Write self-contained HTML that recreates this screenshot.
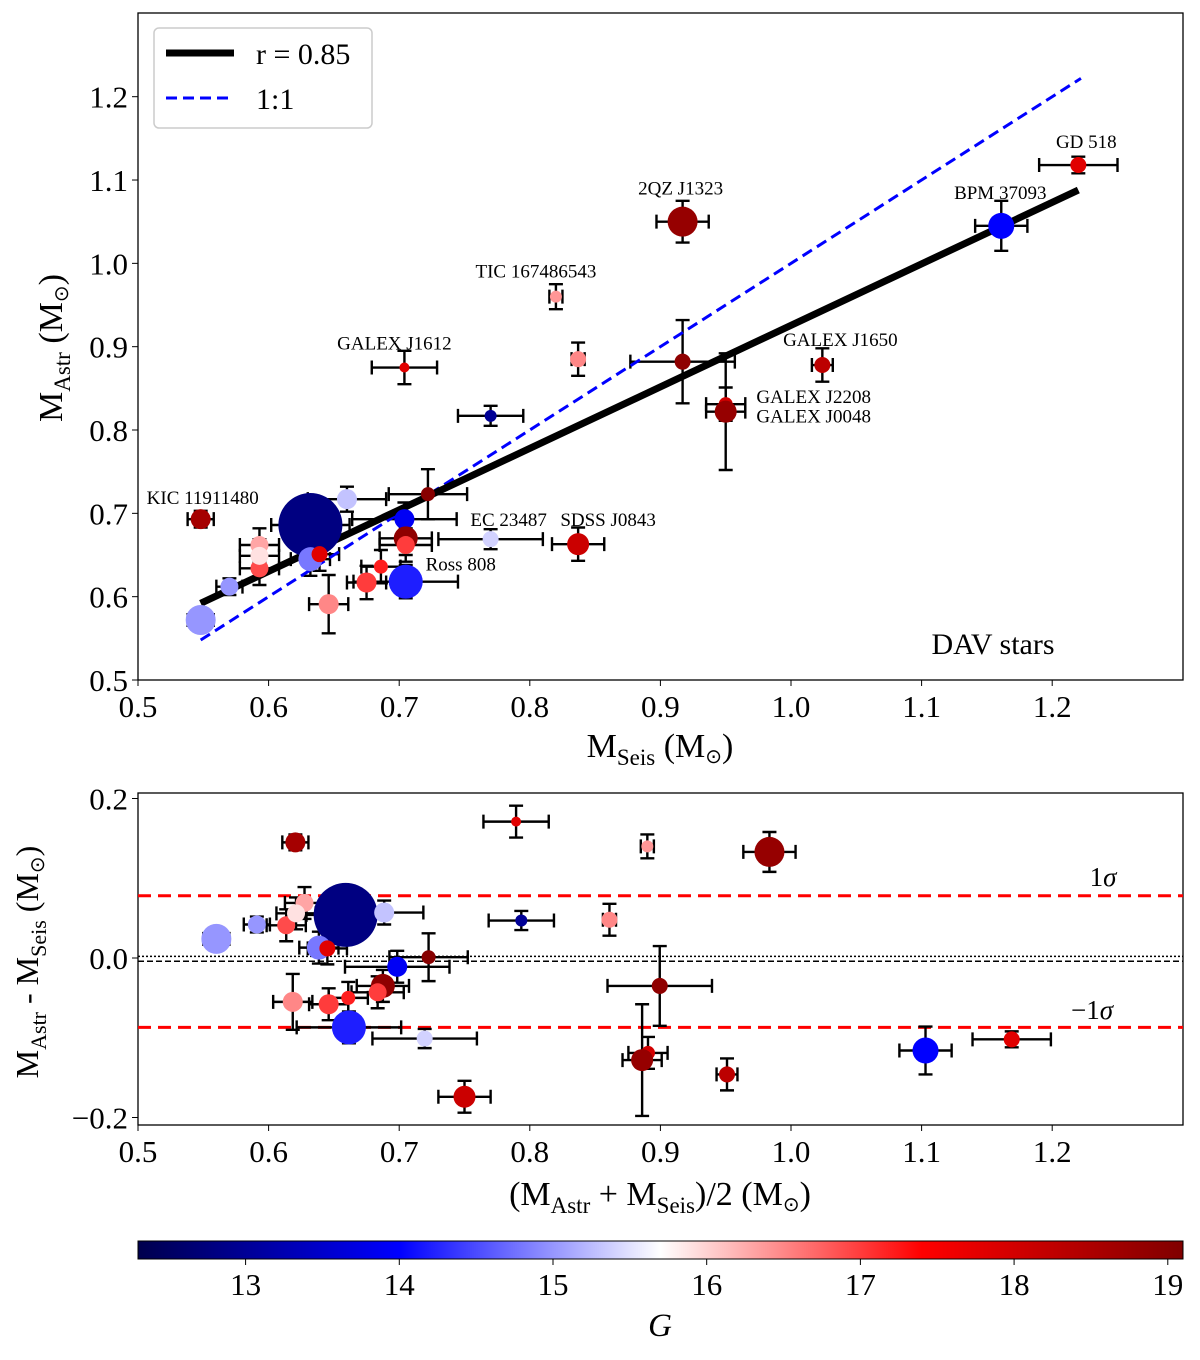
<!DOCTYPE html>
<html><head><meta charset="utf-8"><style>
html,body{margin:0;padding:0;background:#fff;}
svg{display:block;font-family:"Liberation Serif",serif;}
</style></head><body>
<svg id="fig" width="1200" height="1360" viewBox="0 0 1200 1360" xmlns="http://www.w3.org/2000/svg">
<defs>
<linearGradient id="seis" x1="0" x2="1" y1="0" y2="0">
<stop offset="0" stop-color="#00004d"/><stop offset="0.25" stop-color="#0000ff"/><stop offset="0.5" stop-color="#ffffff"/><stop offset="0.75" stop-color="#ff0000"/><stop offset="1" stop-color="#800000"/>
</linearGradient>
<clipPath id="c1"><rect x="138" y="13" width="1045" height="667"/></clipPath>
<clipPath id="c2"><rect x="138" y="793" width="1045" height="332"/></clipPath>
</defs>
<g id="top"></g>
<g id="bot"></g>
<g id="cb"></g>
</svg>
<script>
const names  = ["KIC 11911480","","","","","","","","","SDSS J0843","","","","","","","","","","","GALEX J1612","","TIC 167486543","","","2QZ J1323","GALEX J1650","GALEX J2208","GALEX J0048","BPM 37093","GD 518"];
const mSeis  = [0.548,0.632,0.660,0.722,0.704,0.705,0.705,0.705,0.770,0.837,0.593,0.593,0.593,0.570,0.548,0.632,0.639,0.646,0.675,0.686,0.704,0.770,0.820,0.837,0.917,0.917,1.024,0.950,0.950,1.161,1.220];
const mAstr  = [0.693,0.686,0.717,0.723,0.693,0.670,0.662,0.618,0.669,0.663,0.662,0.634,0.649,0.612,0.572,0.645,0.651,0.591,0.617,0.636,0.875,0.817,0.960,0.885,0.882,1.050,0.878,0.831,0.822,1.045,1.118];
const errSeis= [0.010,0.030,0.030,0.030,0.040,0.020,0.020,0.040,0.040,0.020,0.015,0.015,0.015,0.010,0.010,0.015,0.015,0.015,0.015,0.015,0.025,0.025,0.005,0.005,0.040,0.020,0.008,0.015,0.015,0.020,0.030];
const errAstr= [0.010,0.030,0.015,0.030,0.020,0.020,0.020,0.020,0.012,0.020,0.020,0.020,0.020,0.010,0.010,0.020,0.020,0.035,0.020,0.020,0.020,0.012,0.015,0.020,0.050,0.025,0.020,0.020,0.070,0.030,0.010];
const gMag   = [18.6,12.8,15.3,19.0,13.9,18.9,17.0,14.2,15.4,18.1,16.3,16.9,15.9,15.0,15.0,14.8,17.8,16.5,17.0,17.2,17.8,13.0,16.4,16.5,18.9,18.8,18.3,18.0,18.8,14.0,17.8];
const mSize  = [10,32,10,7,10,12,9,17,8,11,9,9,9,9,15,12,8,10,10,7,5,6,6,8,8,15,8,7,11,13,8];
const fitR = 0.85, fitSlope = 0.738, fitIcpt = 0.592-0.738*0.548;
const sigmaHi = 0.078, sigmaLo = -0.087, meanDiff = -0.004;
const xTicks = [0.5,0.6,0.7,0.8,0.9,1.0,1.1,1.2];
const yTicksTop = [0.5,0.6,0.7,0.8,0.9,1.0,1.1,1.2];
const yTicksBot = [-0.2,0.0,0.2];
const cbTicks = [13,14,15,16,17,18,19];
const labelOffsets = {"KIC 11911480":[2,-15],"SDSS J0843":[30,-18],"GALEX J1612":[-10,-18],"TIC 167486543":[-20,-19],"2QZ J1323":[-2,-27],"GALEX J1650":[18,-19],"GALEX J2208":[88,-1],"GALEX J0048":[88,11],"BPM 37093":[-1,-27],"GD 518":[8,-17]};
const extraLabels=[["EC 23487",0.770,0.669,18,-13],["Ross 808",0.705,0.618,55,-11]];

const NS="http://www.w3.org/2000/svg";
function mk(p,t,a,txt){const e=document.createElementNS(NS,t);for(const k in a)e.setAttribute(k,a[k]);if(txt!==undefined)e.textContent=txt;p.appendChild(e);return e;}
const X=v=>138+(v-0.5)*1306;
const Yt=v=>680-(v-0.5)*833.3;
const Yb=v=>958-v*797.5;
const CB=v=>138+(v-12.3)*153.7;
function cmap(g){const t=Math.max(0,Math.min(1,(g-12.3)/6.8));
 const st=[[0,0,0,77],[0.25,0,0,255],[0.5,255,255,255],[0.75,255,0,0],[1,128,0,0]];
 for(let i=0;i<4;i++){if(t<=st[i+1][0]){const f=(t-st[i][0])/(st[i+1][0]-st[i][0]);
  const c=[1,2,3].map(j=>Math.round(st[i][j]+f*(st[i+1][j]-st[i][j])));return `rgb(${c})`;}}return "rgb(128,0,0)";}
const SUN='<tspan font-size="20" dy="6">⊙</tspan><tspan dy="-6">)</tspan>';

function errbar(p,cx,cy,ex,ey){
 const s={stroke:"#000","stroke-width":2.4,fill:"none"};
 let e=mk(p,"path",Object.assign({d:`M${cx-ex},${cy}H${cx+ex}M${cx-ex},${cy-7}V${cy+7}M${cx+ex},${cy-7}V${cy+7}M${cx},${cy-ey}V${cy+ey}M${cx-7},${cy-ey}H${cx+7}M${cx-7},${cy+ey}H${cx+7}`},s));
 
 
}
function axes(p,top,bot,yt,Y,fmt){
 const ax=mk(p,"rect",{x:138,y:top,width:1045,height:bot-top,fill:"none",stroke:"#000","stroke-width":1.3});
 
 xTicks.forEach(v=>{mk(p,"line",{x1:X(v),x2:X(v),y1:bot,y2:bot+6,stroke:"#000"});
  const t=mk(p,"text",{x:X(v),y:bot+37,"text-anchor":"middle","font-size":31},v.toFixed(1));
  });
 yt.forEach(v=>{mk(p,"line",{x1:132,x2:138,y1:Y(v),y2:Y(v),stroke:"#000"});
  const t=mk(p,"text",{x:128,y:Y(v)+11,"text-anchor":"end","font-size":31},fmt(v));
  });
}
// TOP
const T=document.getElementById("top");
axes(T,13,680,yTicksTop,Yt,v=>v.toFixed(1));
const TC=mk(T,"g",{"clip-path":"url(#c1)"});
mSeis.forEach((s,i)=>errbar(TC,X(s),Yt(mAstr[i]),errSeis[i]*1306,errAstr[i]*833.3));
let l1=mk(TC,"line",{x1:X(0.548),y1:Yt(0.548),x2:X(1.222),y2:Yt(1.222),stroke:"#0000ff","stroke-width":3,"stroke-dasharray":"11,6"});

let l2=mk(TC,"line",{x1:X(0.548),y1:Yt(fitIcpt+fitSlope*0.548),x2:X(1.22),y2:Yt(fitIcpt+fitSlope*1.22),stroke:"#000","stroke-width":7});

mSeis.forEach((s,i)=>{const c=mk(TC,"circle",{cx:X(s),cy:Yt(mAstr[i]),r:mSize[i],fill:cmap(gMag[i])});
 });
mSeis.forEach((s,i)=>{if(!names[i])return;const o=labelOffsets[names[i]];
 const t=mk(T,"text",{x:X(s)+o[0],y:Yt(mAstr[i])+o[1],"text-anchor":"middle","font-size":19},names[i]);
 });
extraLabels.forEach(e=>{const t=mk(T,"text",{x:X(e[1])+e[3],y:Yt(e[2])+e[4],"text-anchor":"middle","font-size":19},e[0]);
 });
let dv=mk(T,"text",{x:993,y:654,"text-anchor":"middle","font-size":30},"DAV stars");

const lg=mk(T,"g",{});
mk(lg,"rect",{x:154,y:28,width:218,height:100,rx:5,fill:"#fff",stroke:"#ccc","stroke-width":1.5});
mk(lg,"line",{x1:166,x2:234,y1:53,y2:53,stroke:"#000","stroke-width":7});
let le1=mk(lg,"text",{x:256,y:64,"font-size":30},"r = "+fitR.toFixed(2));
mk(lg,"line",{x1:166,x2:234,y1:98,y2:98,stroke:"#0000ff","stroke-width":3,"stroke-dasharray":"11,6"});
let le2=mk(lg,"text",{x:256,y:109,"font-size":30},"1:1");
let yl=mk(T,"text",{transform:"translate(62,348) rotate(-90)","text-anchor":"middle","font-size":34});
yl.innerHTML='M<tspan font-size="23" dy="8">Astr</tspan><tspan dy="-8"> (M</tspan>'+SUN;

let xl=mk(T,"text",{x:660,y:757,"text-anchor":"middle","font-size":34});
xl.innerHTML='M<tspan font-size="23" dy="8">Seis</tspan><tspan dy="-8"> (M</tspan>'+SUN;

// BOTTOM
const B=document.getElementById("bot");
axes(B,793,1125,yTicksBot,Yb,v=>v<0?"−"+Math.abs(v).toFixed(1):v.toFixed(1));
const BC=mk(B,"g",{"clip-path":"url(#c2)"});
mk(BC,"line",{x1:138,x2:1183,y1:Yb(0.002),y2:Yb(0.002),stroke:"#000","stroke-width":1.5,"stroke-dasharray":"2,2"});
mk(BC,"line",{x1:138,x2:1183,y1:Yb(meanDiff),y2:Yb(meanDiff),stroke:"#000","stroke-width":1.5,"stroke-dasharray":"6,3"});
[sigmaHi,sigmaLo].forEach(v=>{const l=mk(BC,"line",{x1:138,x2:1183,y1:Yb(v),y2:Yb(v),stroke:"#ff0000","stroke-width":3,"stroke-dasharray":"13,7"});
 });
mSeis.forEach((s,i)=>{const m=(s+mAstr[i])/2,d=mAstr[i]-s;
 errbar(BC,X(m),Yb(d),errSeis[i]*1306,errAstr[i]*797.5);});
mSeis.forEach((s,i)=>{const m=(s+mAstr[i])/2,d=mAstr[i]-s;
 const c=mk(BC,"circle",{cx:X(m),cy:Yb(d),r:mSize[i],fill:cmap(gMag[i])});
 });
let s1=mk(B,"text",{x:1103,y:886,"text-anchor":"middle","font-size":27});s1.innerHTML='1<tspan font-style="italic">σ</tspan>';
let s2=mk(B,"text",{x:1092,y:1019,"text-anchor":"middle","font-size":27});s2.innerHTML='−1<tspan font-style="italic">σ</tspan>';
let yl2=mk(B,"text",{transform:"translate(38,962) rotate(-90)","text-anchor":"middle","font-size":32});
yl2.innerHTML='M<tspan font-size="22" dy="8">Astr</tspan><tspan dy="-8"> - M</tspan><tspan font-size="22" dy="8">Seis</tspan><tspan dy="-8"> (M</tspan>'+SUN;

let xl2=mk(B,"text",{x:660,y:1205,"text-anchor":"middle","font-size":34});
xl2.innerHTML='(M<tspan font-size="23" dy="8">Astr</tspan><tspan dy="-8"> + M</tspan><tspan font-size="23" dy="8">Seis</tspan><tspan dy="-8">)/2 (M</tspan>'+SUN;

// COLORBAR
const C=document.getElementById("cb");
mk(C,"rect",{x:138,y:1241,width:1045,height:18,fill:"url(#seis)",stroke:"#000","stroke-width":1});
cbTicks.forEach(v=>{mk(C,"line",{x1:CB(v),x2:CB(v),y1:1259,y2:1265,stroke:"#000"});
 const t=mk(C,"text",{x:CB(v),y:1295,"text-anchor":"middle","font-size":31},String(v));
 });
let gl=mk(C,"text",{x:660,y:1336,"text-anchor":"middle","font-size":33,"font-style":"italic"},"G");

</script>
</body></html>
